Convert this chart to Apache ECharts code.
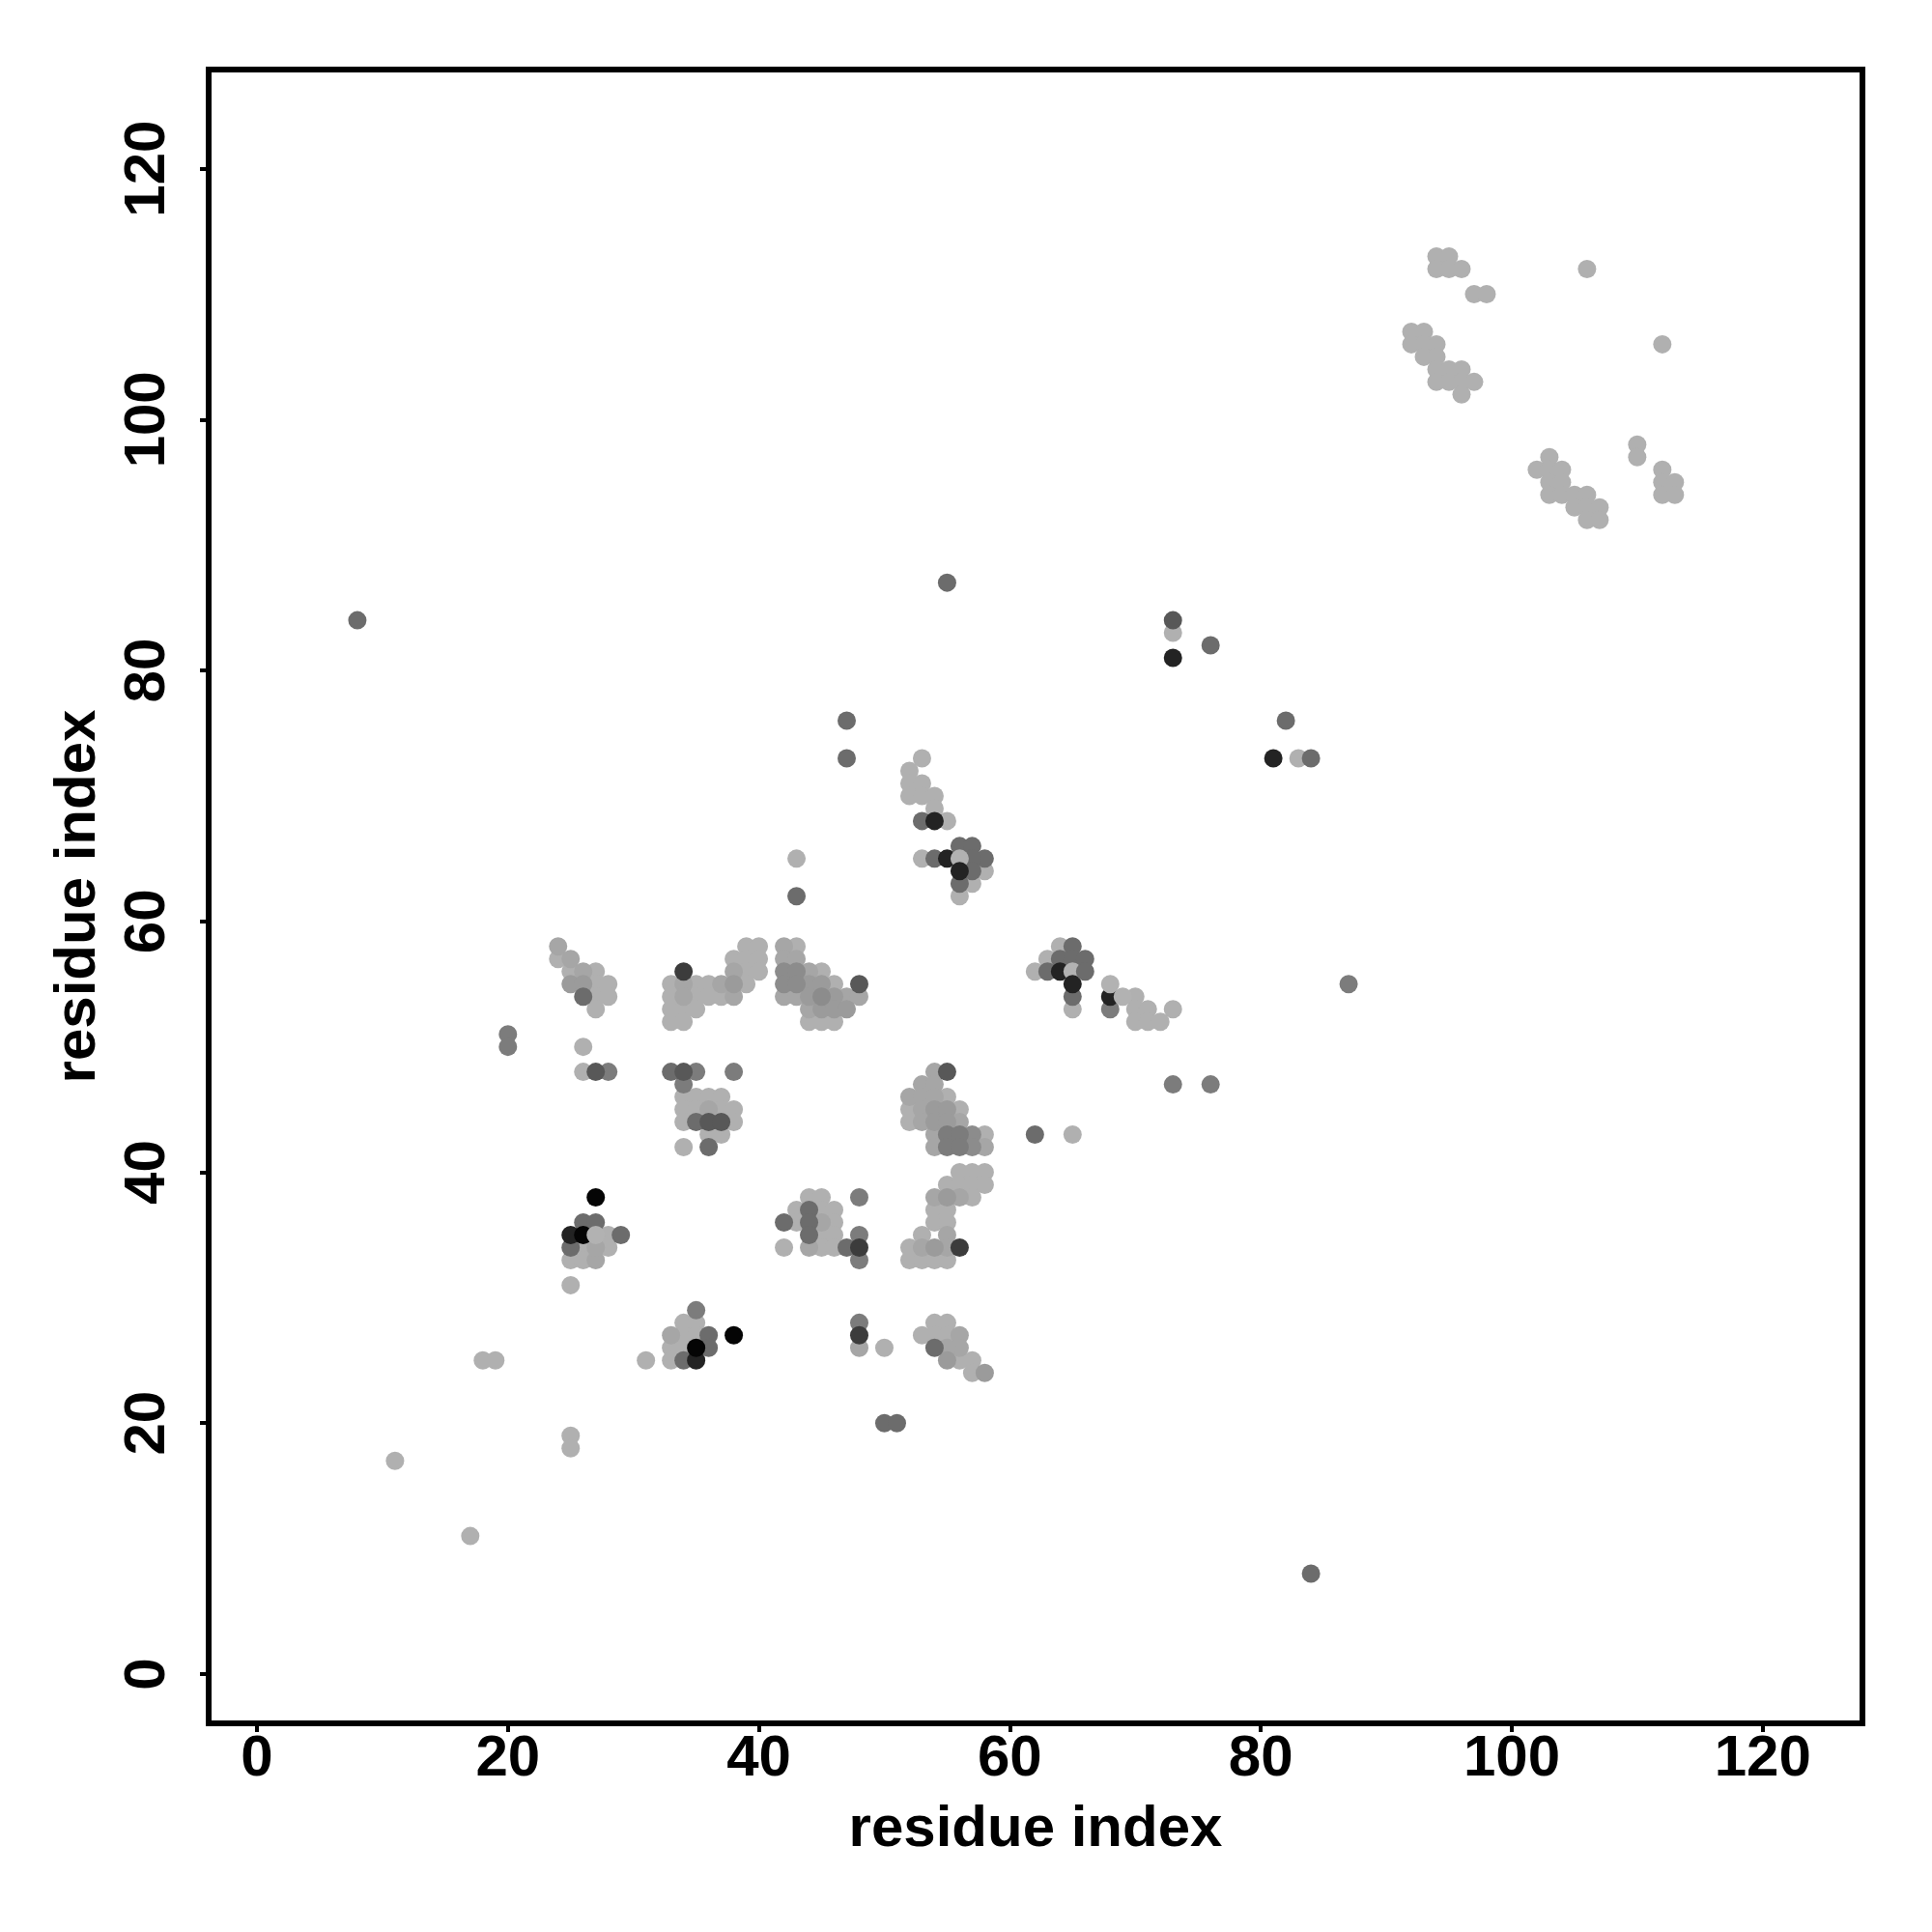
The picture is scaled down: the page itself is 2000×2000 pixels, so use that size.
<!DOCTYPE html>
<html>
<head>
<meta charset="utf-8">
<style>html,body{margin:0;padding:0;background:#fff}#c{width:2000px;height:2000px}</style>
<script src="https://cdn.jsdelivr.net/npm/echarts@6/dist/echarts.min.js"></script>
</head>
<body>
<div id="c"></div>
<script>
const tickValues = [0, 20, 40, 60, 80, 100, 120];
const axisTitle = 'residue index';

// contacts [residue i, residue j], grouped by how dark the point prints (grey level)
const grey172 = [
 [94,113],[95,113],[94,112],[95,112],[96,112],[106,112],[97,110],[98,110],[92,107],[93,107],[92,106],[93,106],[94,106],[93,105],[94,105],
 [94,104],[95,104],[96,104],[94,103],[95,103],[96,103],[97,103],[96,102],[112,106],
 [110,98],[103,97],[110,97],[102,96],[103,96],[104,96],[112,96],[103,95],[104,95],[112,95],[113,95],[103,94],[104,94],[105,94],[106,94],[112,94],[113,94],
 [105,93],[106,93],[107,93],[106,92],[107,92],
 [73,83],[83,73],[65,43],[43,65],[26,50],[25,19],[25,18],[11,17],[17,11],[18,25],[19,25],[31,25],[25,31],
 [53,73],[52,72],[52,71],[53,71],[52,70],[53,70],[54,70],[54,69],[55,68],[53,65],[58,64],[57,63],[56,62],
 [24,57],[25,56],[27,56],[27,55],[28,55],[27,54],[28,54],[27,53],[26,48],
 [39,58],[40,58],[38,57],[39,57],[40,57],[39,56],[40,56],[33,55],[35,55],[36,55],[39,55],[33,54],[35,54],[36,54],[37,54],[33,53],[34,53],[35,53],[33,52],[34,52],
 [34,46],[35,46],[36,46],[37,46],[34,45],[35,45],[37,45],[38,45],[34,44],[38,44],[36,43],[37,43],[34,42],
 [45,56],[46,55],[44,52],[45,52],[46,52],[43,58],
 [55,46],[52,45],[56,45],[52,44],[58,43],
 [56,40],[57,40],[58,40],[55,39],[56,39],[57,39],[58,39],[57,38],[54,37],[55,37],[54,36],[55,36],[53,35],[52,34],[52,33],[53,33],[54,33],[55,33],
 [44,38],[45,38],[43,37],[45,37],[46,37],[43,36],[46,36],[45,35],[46,35],[42,34],[45,34],[46,34],
 [28,35],[26,34],[28,34],[25,33],[26,33],
 [34,28],[35,28],[34,27],[35,27],[33,26],[34,26],[33,25],[50,26],
 [54,28],[55,28],[53,27],[54,27],[55,27],[56,25],[57,25],[57,24],
 [62,56],[63,57],[64,58],[70,54],[65,53],[70,53],[71,53],[73,53],[70,52],[71,52],[72,52]
];
const grey160 = [
 [24,58],[25,57],[26,56],[27,33],[34,55],[34,54],[37,55],[38,56],[38,54],[33,27],[56,27],[56,26],[55,26],[48,26],
 [42,58],[42,54],[43,54],[44,53],[47,54],[48,54],[44,34],[54,48],[53,47],[54,47],[52,46],[53,46],[54,46],[36,45],[54,43],[54,42],[58,42],
 [54,38],[56,38],[55,35],[53,34],[55,34],[45,36],[27,34],[42,57],[43,57],[44,56],[53,45],[53,44],[56,44]
];
const grey148 = [
 [25,55],[26,55],[38,55],[44,55],[45,55],[44,54],[46,54],[45,53],[46,53],[47,53],[54,45],[55,45],[54,44],[55,44],[54,34],[55,38],[58,24],[55,25]
];
const grey135 = [
 [42,56],[43,56],[42,55],[43,55],[45,54],[57,43],[57,42]
];
const grey122 = [
 [55,43],[56,43],[55,42],[56,42],[34,47],[48,28],[20,51],[20,50],[35,29],[48,38],[48,35],[28,48],[35,48],[38,48],[68,53],[48,33],[87,55],[73,47],[76,47]
];
const grey108 = [
 [8,84],[55,87],[76,82],[47,76],[47,73],[82,76],[84,8],[50,20],[51,20],[43,62],
 [53,68],[54,65],[58,65],[56,66],[57,66],[57,65],[57,64],[56,63],
 [26,54],[33,48],[35,44],[36,42],[44,37],[44,36],[44,35],[42,36],[47,34],[26,36],[27,36],[29,35],[25,34],[36,27],[36,26],[34,25],[54,26],
 [65,58],[64,57],[65,57],[66,57],[63,56],[65,54],[84,73],[62,43]
];
const grey88 = [
 [73,84],[48,55],[36,44],[37,44],[55,48],[34,48],[27,48]
];
const grey48 = [
 [34,56],[48,27],[48,34],[56,34]
];
const grey30 = [
 [73,81],[81,73],[54,68],[55,65],[64,56],[68,54],[25,35],[35,25]
];
const grey5 = [
 [27,38],[26,35],[35,26],[38,27]
];
// these few are printed over their darker neighbours
const lightOverDark = [[56,65],[65,56],[27,35],[69,54],[68,55]];
const darkOverLight = [[56,64],[65,55]];
const midOverLight = [[66,56]];

const layers = [
  [grey172, '#b0b0b0'], [grey160, '#a6a6a6'], [grey148, '#9b9b9b'], [grey135, '#8c8c8c'],
  [grey122, '#7c7c7c'], [grey108, '#6c6c6c'], [grey88, '#585858'], [grey48, '#3c3c3c'],
  [grey30, '#232323'], [grey5, '#050505'], [lightOverDark, '#b2b2b2'], [darkOverLight, '#232323'], [midOverLight, '#6c6c6c']
];

const font = {fontFamily: '"Liberation Sans", Arial, sans-serif', fontWeight: 'bold', fontSize: 60, color: '#000'};

const chart = echarts.init(document.getElementById('c'), null, {renderer: 'canvas'});
chart.setOption({
  animation: false,
  backgroundColor: '#fff',
  grid: {left: 216, right: 72, top: 72, bottom: 216, show: true, borderColor: '#000', borderWidth: 6, backgroundColor: 'transparent', z: 5},
  xAxis: {
    type: 'value', min: -3.85, max: 127.95, splitLine: {show: false}, axisLine: {show: false, onZero: false},
    axisTick: {show: true, length: 9, lineStyle: {color: '#000', width: 4}, customValues: tickValues},
    axisLabel: {...font, margin: 7, customValues: tickValues},
    name: axisTitle, nameLocation: 'middle', nameGap: 80, nameMoveOverlap: false, nameTextStyle: font
  },
  yAxis: {
    type: 'value', min: -3.93, max: 127.9, splitLine: {show: false}, axisLine: {show: false, onZero: false},
    axisTick: {show: true, length: 9, lineStyle: {color: '#000', width: 4}, customValues: tickValues},
    axisLabel: {...font, rotate: 90, margin: 33, customValues: tickValues},
    name: axisTitle, nameLocation: 'middle', nameGap: 105, nameMoveOverlap: false, nameTextStyle: font
  },
  series: layers.map(([data, color], i) => ({
    type: 'scatter', data, symbol: 'circle', symbolSize: 19, silent: true, z: 2 + i * 0.01,
    itemStyle: {color, opacity: 1}
  }))
});
</script>
</body>
</html>
